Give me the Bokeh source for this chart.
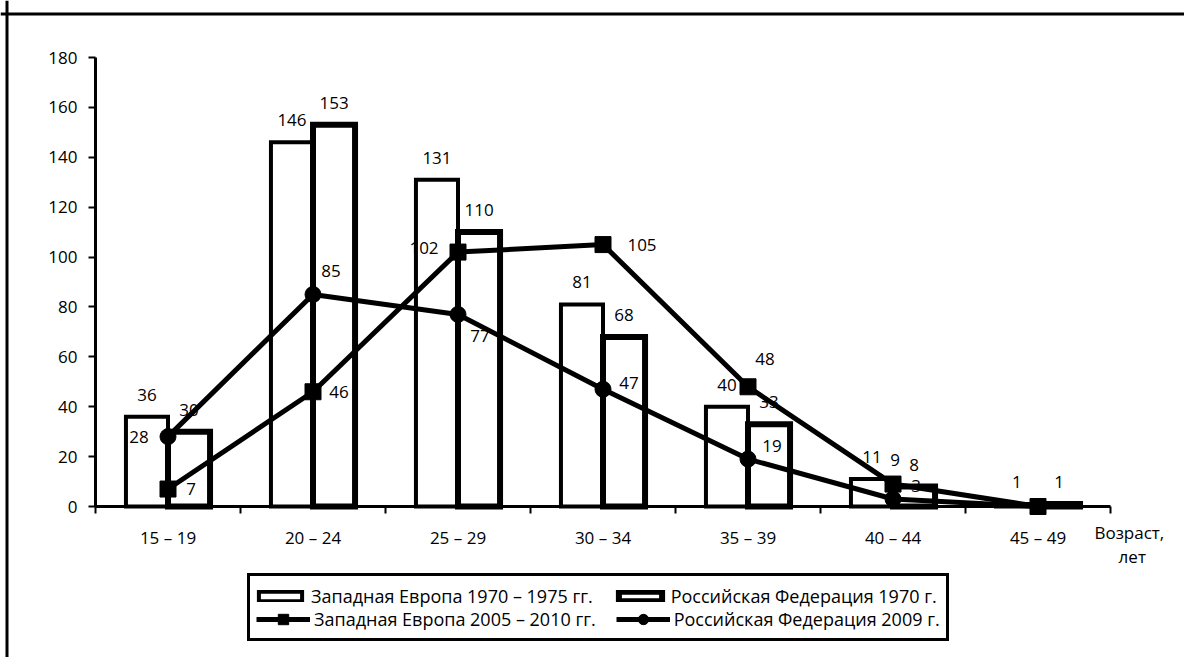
from bokeh.plotting import figure
from bokeh.models import (ColumnDataSource, Range1d, LinearAxis, FixedTicker,
                          Legend, LegendItem, Span)
from bokeh.transform import dodge
from bokeh.core.properties import value
from bokeh.embed import file_html
from bokeh.resources import INLINE

# ---------------- data ----------------
categories = ["15 – 19", "20 – 24", "25 – 29", "30 – 34", "35 – 39", "40 – 44", "45 – 49"]
we_1970 = [36, 146, 131, 81, 40, 11, 1]      # Западная Европа 1970 – 1975 гг.
rf_1970 = [30, 153, 110, 68, 33, 8, 1]       # Российская Федерация 1970 г.
we_2005 = [7, 46, 102, 105, 48, 9, 0]        # Западная Европа 2005 – 2010 гг.
rf_2009 = [28, 85, 77, 47, 19, 3, 0]         # Российская Федерация 2009 г.

y_ticks = [0, 20, 40, 60, 80, 100, 120, 140, 160, 180]
x_title = ["Возраст,", "лет"]
series_names = ["Западная Европа 1970 – 1975 гг.", "Российская Федерация 1970 г.",
                "Западная Европа 2005 – 2010 гг.", "Российская Федерация 2009 г."]

FONT = "Open Sans"
FS = "17px"
idx = list(range(len(categories)))

src = ColumnDataSource(dict(x=idx, cat=categories, we70=we_1970, rf70=rf_1970,
                            we05=we_2005, rf09=rf_2009))

# ---------------- layout geometry ----------------
W, H = 1184, 657
PX_X = 145.0            # pixels per category
PX_Y = 449.0 / 180.0    # pixels per unit
X0 = -167.5 / PX_X      # data x at left edge of canvas
Y1 = 506.0 / PX_Y       # data y at top edge of canvas
x_range = Range1d(X0, X0 + W / PX_X)
y_range = Range1d(Y1 - H / PX_Y, Y1)

p = figure(width=W, height=H, x_range=x_range, y_range=y_range,
           output_backend="svg", toolbar_location=None,
           x_axis_type=None, y_axis_type=None,
           min_border=0, min_border_left=0, min_border_right=0,
           min_border_top=0, min_border_bottom=0)
p.outline_line_color = None
p.background_fill_color = "white"
p.border_fill_color = "white"
p.xgrid.visible = False
p.ygrid.visible = False

# outer frame (top and left edges of the original picture's border)
p.add_layout(Span(location=X0 + 6.5 / PX_X, dimension="height", line_color="black", line_width=3))
p.add_layout(Span(location=Y1 - 13.5 / PX_Y, dimension="width", line_color="black", line_width=3))

# axes
xaxis = LinearAxis(ticker=FixedTicker(ticks=idx, minor_ticks=[i - 0.5 for i in range(len(categories) + 1)]),
                   major_label_overrides={i: c for i, c in zip(idx, categories)},
                   fixed_location=0, bounds=(-0.5, len(categories) - 0.5))
xaxis.major_tick_out = 0
xaxis.major_tick_in = 0
xaxis.minor_tick_out = 7
xaxis.minor_tick_in = 0
xaxis.minor_tick_line_width = 2
xaxis.minor_tick_line_color = "black"
xaxis.axis_line_width = 3
xaxis.axis_line_color = "black"
xaxis.major_label_standoff = 12
xaxis.major_label_text_font = FONT
xaxis.major_label_text_font_size = FS
xaxis.major_label_text_color = "black"
p.add_layout(xaxis, "below")

yaxis = LinearAxis(ticker=FixedTicker(ticks=y_ticks, minor_ticks=[]),
                   fixed_location=-0.5, bounds=(0, 180))
yaxis.major_tick_out = 7
yaxis.major_tick_in = 0
yaxis.major_tick_line_width = 2
yaxis.major_tick_line_color = "black"
yaxis.minor_tick_out = 0
yaxis.axis_line_width = 3
yaxis.axis_line_color = "black"
yaxis.major_label_standoff = 11
yaxis.major_label_text_font = FONT
yaxis.major_label_text_font_size = FS
yaxis.major_label_text_color = "black"
p.add_layout(yaxis, "left")

# bars
BW = 0.29
r_we70 = p.vbar(x=dodge("x", -BW / 2, range=p.x_range), top="we70", bottom=0, width=BW, source=src,
                fill_color="white", line_color="black", line_width=4, line_join="miter")
r_rf70 = p.vbar(x=dodge("x", BW / 2, range=p.x_range), top="rf70", bottom=0, width=BW, source=src,
                fill_color="white", line_color="black", line_width=6, line_join="miter")

# lines
r_we05_l = p.line("x", "we05", source=src, line_color="black", line_width=5)
r_we05_m = p.scatter("x", "we05", source=src, marker="square", size=16,
                     fill_color="black", line_color="black")
r_rf09_l = p.line("x", "rf09", source=src, line_color="black", line_width=5)
r_rf09_m = p.scatter("x", "rf09", source=src, marker="circle", size=16,
                     fill_color="black", line_color="black")

# bar value labels
bar_lab = ColumnDataSource(dict(
    x=[i - BW / 2 for i in idx] + [i + BW / 2 for i in idx],
    y=we_1970 + rf_1970,
    t=[str(v) for v in we_1970 + rf_1970]))
p.text("x", "y", text="t", source=bar_lab, y_offset=-22, text_align="center",
       text_baseline="middle", text_font=value(FONT), text_font_size=FS, text_color="black")

# line value labels (offsets in screen px)
we05_dx = [23, 26, -34, 39, 17, 2]
we05_dy = [0, 0, -4, 0, -28, -24]
rf09_dx = [-29, 18, 22, 26, 24, 23]
rf09_dy = [0, -23, 22, -6, -13, -13]
n = len(we05_dx)
line_lab = ColumnDataSource(dict(
    x=idx[:n] + idx[:n],
    y=we_2005[:n] + rf_2009[:n],
    t=[str(v) for v in we_2005[:n] + rf_2009[:n]],
    dx=we05_dx + rf09_dx,
    dy=we05_dy + rf09_dy))
p.text("x", "y", text="t", source=line_lab, x_offset="dx", y_offset="dy", text_align="center",
       text_baseline="middle", text_font=value(FONT), text_font_size=FS, text_color="black")

# axis title at the right end of the x axis
last = len(categories) - 0.5
p.text(x=[last + 0.13, last + 0.15], y=[0, 0], text=x_title, x_offset=0, y_offset=[26, 50],
       text_align="center", text_baseline="middle", text_font=value(FONT),
       text_font_size=FS, text_color="black")

# ---------------- legend ----------------
LFS = "18px"
PAD = 6
LX = 247
LY = 16


def style_legend(lg, glyph_h):
    lg.orientation = "horizontal"
    lg.ncols = 2
    lg.padding = PAD
    lg.spacing = 20
    lg.margin = 0
    lg.glyph_width = 54
    lg.glyph_height = glyph_h
    lg.label_height = 20
    lg.label_standoff = 4
    lg.label_text_font = FONT
    lg.label_text_font_size = LFS
    lg.label_text_color = "black"


# main box: lines row (row 2) + empty title area for row 1
box = Legend(items=[LegendItem(label=series_names[2], renderers=[r_we05_l, r_we05_m]),
                    LegendItem(label=series_names[3], renderers=[r_rf09_l, r_rf09_m])],
             location=(LX, LY), title=" ")
style_legend(box, 26)
box.title_text_font_size = "14px"
box.title_text_alpha = 0
box.title_standoff = 8
box.background_fill_color = "white"
box.background_fill_alpha = 1
box.border_line_color = "black"
box.border_line_alpha = 1
box.border_line_width = 3
p.add_layout(box)

# bars row (row 1), drawn into the title area of the main box
bars = Legend(items=[LegendItem(label=series_names[0], renderers=[r_we70]),
                     LegendItem(label=series_names[1], renderers=[r_rf70])],
              location=(LX + 6, 49))
style_legend(bars, 12)
bars.background_fill_alpha = 0
bars.border_line_color = None
p.add_layout(bars)

open("out.html", "w").write(file_html(p, INLINE))
